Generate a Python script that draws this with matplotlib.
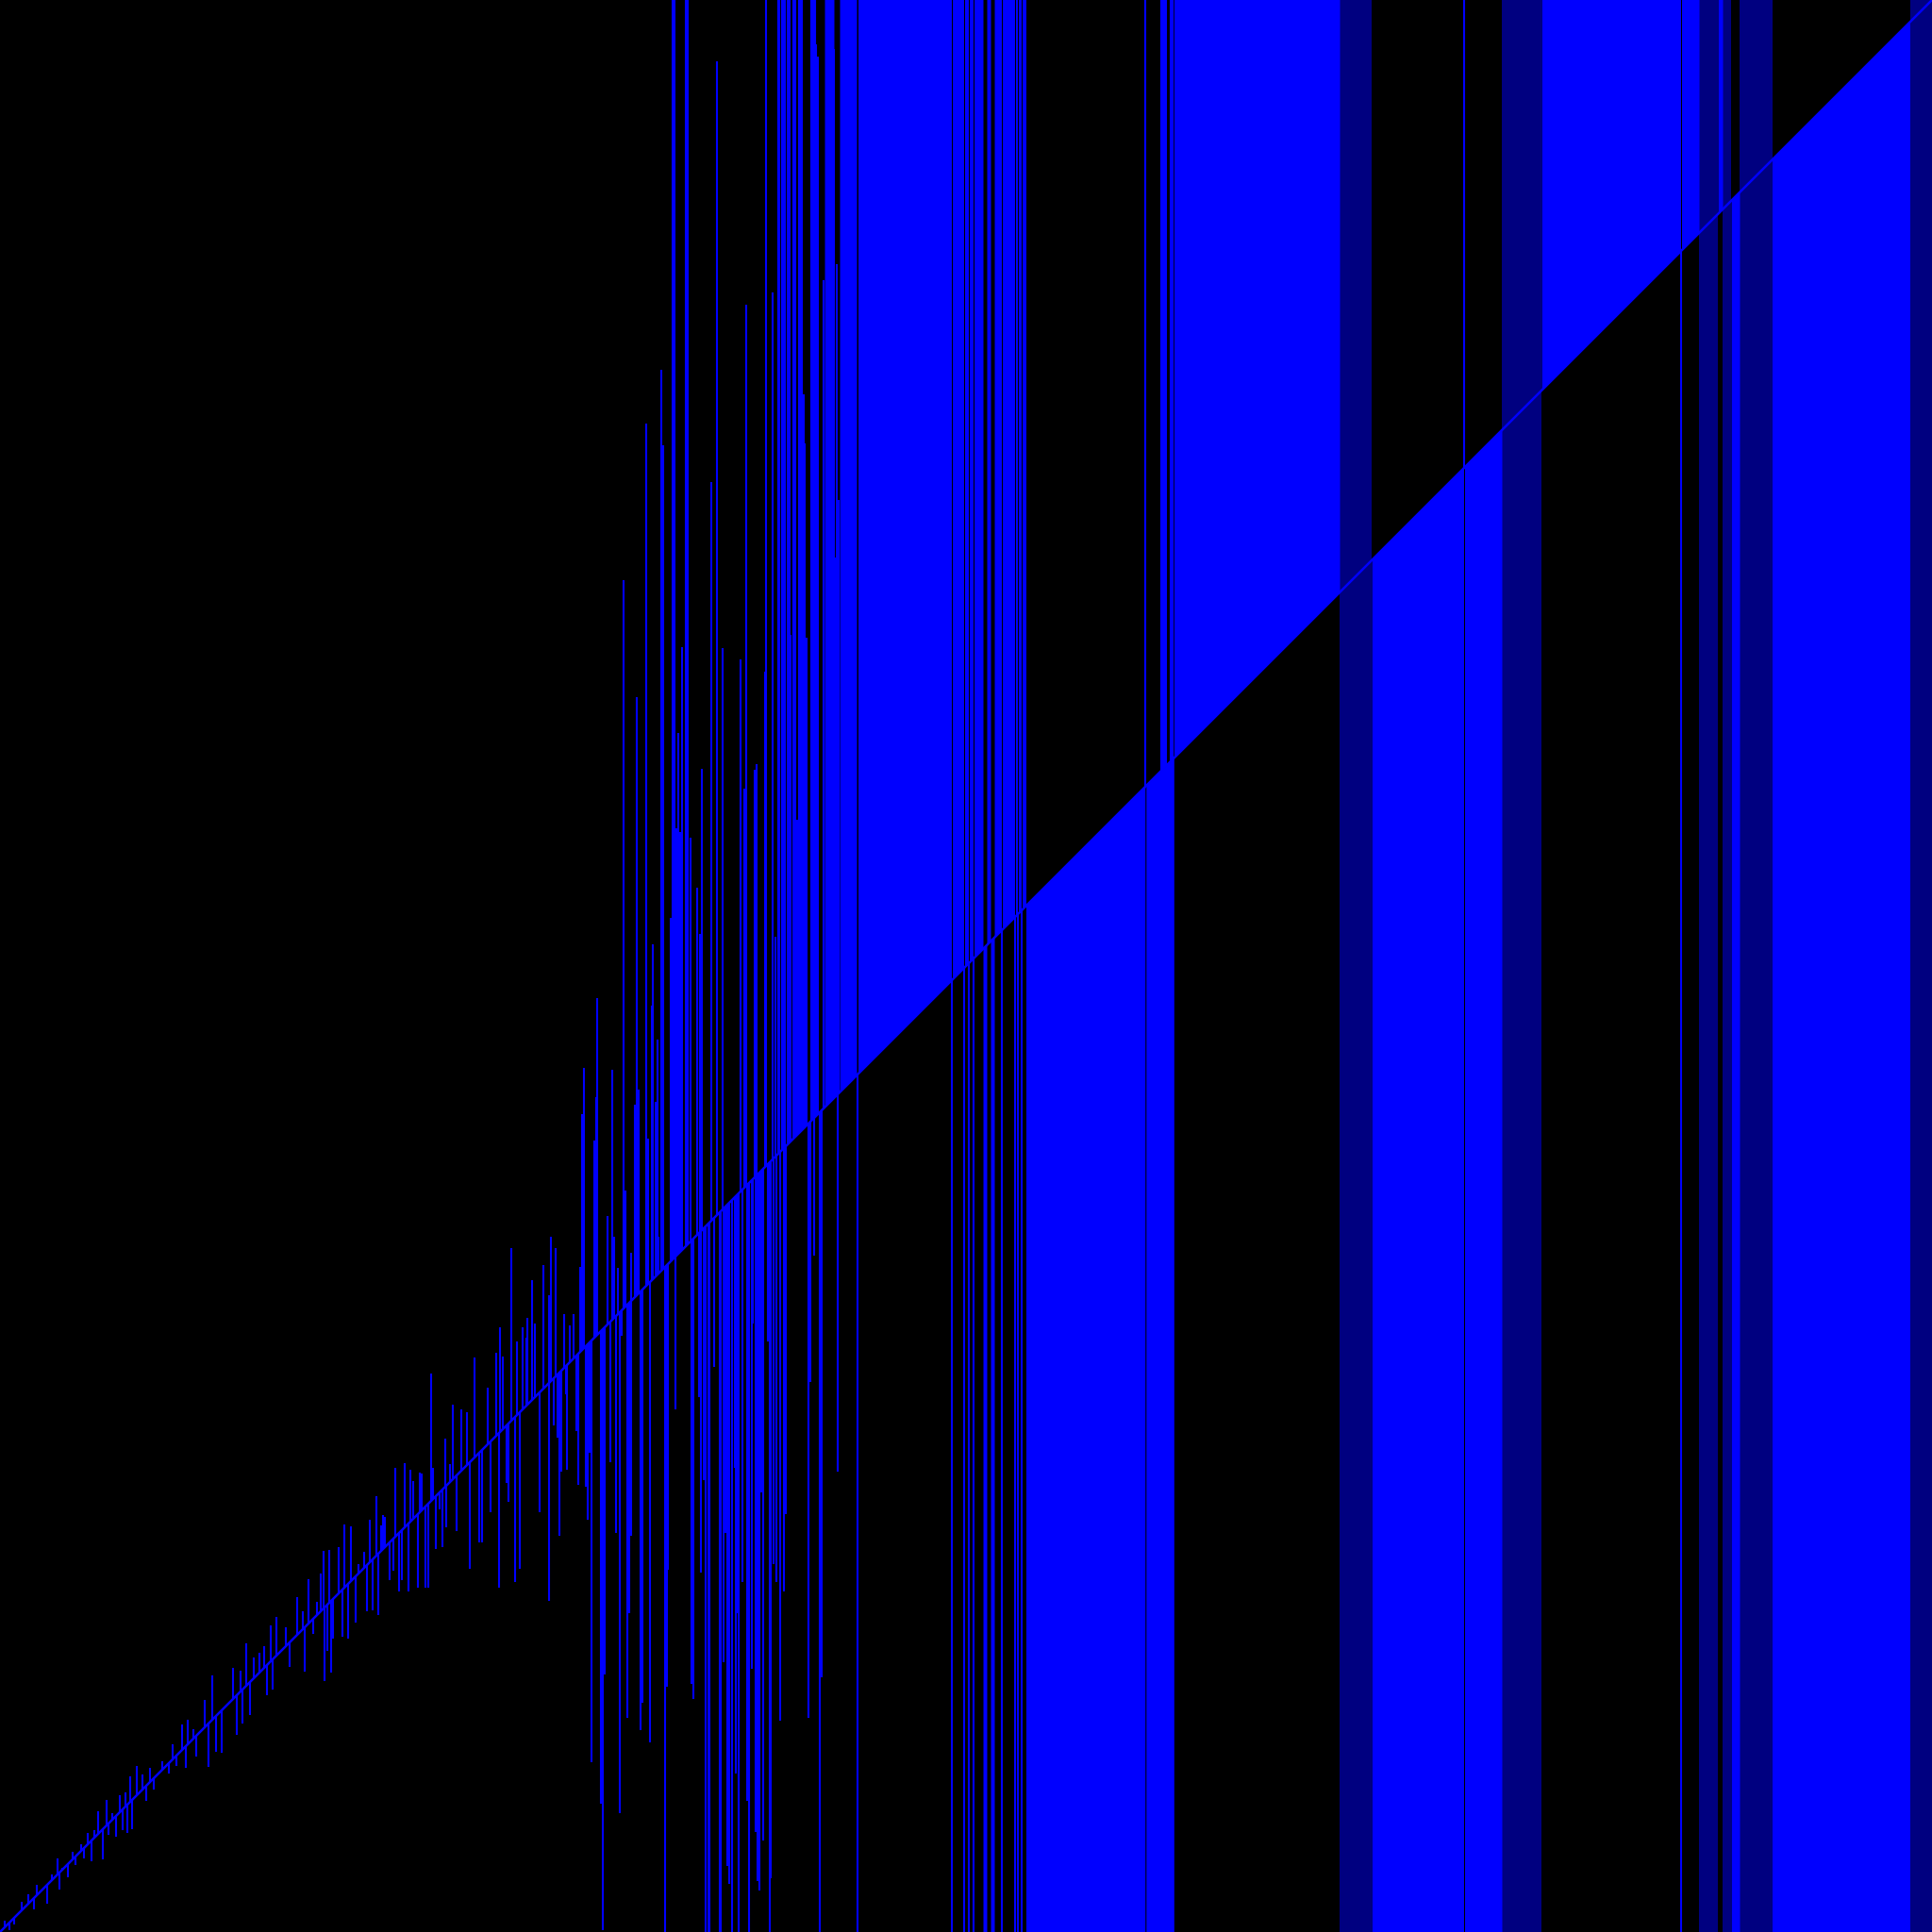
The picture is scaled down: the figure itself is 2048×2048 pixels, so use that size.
import matplotlib
matplotlib.use("Agg")
import matplotlib.pyplot as plt

TOP = 2100   # value beyond the top edge
BOT = -60    # value beyond the bottom edge
BLUE = (0, 0, 1)
NAVY = (0, 0, 0.5)

# the diagonal y = x
diag_x = [0, 2048]
diag_y = [0, 2048]

# spikes: each starts on the diagonal at x and ends at y
spike_x = [
    5, 10, 15, 23, 30, 36, 39, 50, 55, 61, 63, 66, 72, 77, 80, 86, 89, 93, 97, 100,
    104, 109, 113, 115, 119, 123, 127, 130, 133, 135, 138, 140, 145, 151, 155, 159, 163, 172, 179, 183,
    187, 193, 197, 199, 205, 208, 217, 221, 225, 229, 235, 247, 251, 255, 257, 261, 265, 269, 275, 280,
    283, 287, 289, 293, 303, 307, 315, 321, 323, 327, 332, 336, 340, 343, 344, 347, 349, 351, 353, 359,
    363, 365, 369, 372, 377, 380, 386, 389, 392, 395, 399, 401, 404, 406, 408, 413, 417, 419, 423, 426,
    429, 433, 435, 438, 443, 445, 447, 451, 454, 457, 459, 462, 466, 469, 472, 473, 477, 480, 484, 489,
    495, 498, 503, 508, 511, 517, 520, 526, 529, 530, 533, 537, 539, 542, 546, 548, 551, 554, 558, 559,
    564, 567, 572, 576,
    582, 582, 584, 587, 589, 591, 593, 595, 598, 600, 601, 604, 608, 611, 613, 615, 617, 619, 621, 623,
    625, 627, 630, 632, 633, 637, 639, 641, 644, 647, 649, 651, 653, 655, 657, 659, 661, 663, 665, 667,
    669, 669, 673, 675, 677, 679, 681, 685, 687, 689, 691, 692, 695, 697, 698, 701, 703, 705, 707, 708,
    711, 713, 715, 716, 717, 719, 721, 723, 727, 729, 732, 733, 735, 739, 741, 742, 743, 744, 746, 748,
    751, 752, 754, 757, 760, 763, 764, 766, 767, 769, 771, 772, 773, 776, 779, 780, 782, 783, 785, 787,
    789, 791, 792, 794, 797, 798, 800, 801, 802, 803, 805, 807, 809, 811, 812, 814, 816, 817, 819, 820,
    822, 823, 825, 826, 827, 829, 830, 831, 832, 833, 835, 837, 838, 841, 842, 843, 845, 847, 848, 850,
    852, 853, 855, 857, 859, 860, 862, 863, 864, 865, 867, 869, 871, 873, 884, 886, 887, 888, 889,
    908.75, 1009, 1022, 1027, 1032, 1062, 1076, 1079, 1083, 1214.3, 1230.7, 1232.3, 1234.3, 1236,
    1241, 1243, 1552, 1782,
]
spike_y = [
    12, 2, 8, 32, 40, 24, 50, 30, 61, 78, 45, 68, 58, 85, 71, 93, 78, 105, 75, 108,
    128, 77, 140, 103, 126, 101, 145, 108, 148, 105, 165, 109, 176, 167, 139, 174, 151, 181, 168, 199,
    176, 220, 174, 225, 215, 186, 246, 175, 272, 191, 190, 280, 209, 277, 221, 306, 230, 291, 296, 303,
    251, 325, 257, 334, 323, 281, 355, 340, 276, 374, 316, 350, 380, 404, 266, 298, 405, 275, 311, 408,
    313, 432, 311, 430, 328, 390, 403, 340, 437, 341, 462, 336, 431, 442, 440, 373, 383, 492, 361, 373,
    497, 361, 490, 478, 365, 487, 486, 365, 365, 592, 492, 406, 448, 408, 523, 429, 496, 559, 425, 554,
    551, 385, 609, 413, 413, 577, 445, 614, 365, 641, 610, 476, 456, 725, 371, 626, 385, 641, 630, 651,
    691, 645, 445, 707,
    675, 351, 737, 537, 725, 524, 420, 488, 655, 570, 490, 643, 655, 531, 474, 705, 867, 916, 472, 437,
    508, 180, 839, 885, 990, 136, 2, 273, 759, 498, 914, 737, 423, 704, 126, 632, 1433, 786, 227, 338,
    720, 420, 877, 1309, 893, 214, 243, 1599, 841, 201, 982, 1047, 880, 946, 737, 1656, 1576, BOT, 260, 384,
    1075, TOP, TOP, 554, 1170, 1271, 1166, 1362, TOP, TOP, 1160, 263, 247, 1107, 567, 1058, 381, 1233, 479, BOT,
    BOT, BOT, 1537, 599, 1983, BOT, BOT, 1361, 286, 423, 70, 136, 51, BOT, 492, 168, 338, BOT, 1349, 371,
    1212, 1725, 139, BOT, 279, 645, 1232, 106, 1238, 54, 44, 466, 97, 1336, TOP, 626, BOT, 57, 1738, 390,
    1055, 371, TOP, TOP, 224, TOP, TOP, 361, TOP, 443, TOP, TOP, 1375, TOP, TOP, TOP, 1179, TOP, TOP, TOP,
    1630, 1578, 1372, 227, 583, TOP, TOP, 717, TOP, 2001, 1988, BOT, 270, 1751, 1996, 1457, 1768, 488, 1518,
    BOT, BOT, BOT, BOT, BOT, BOT, BOT, BOT, BOT, TOP, TOP, TOP, TOP, TOP,
    TOP, TOP, TOP, BOT,
]

# x ranges where the lines run from the diagonal up past the top
up_start = [874, 890, 909.5, 1009.5, 1022.5, 1027.5, 1032.5, 1046, 1054, 1062.5, 1076.5, 1079.5, 1083.5,
            1244.3, 1634, 1782.5, 1821]
up_end = [884, 908, 1008.5, 1021.5, 1026.5, 1031.5, 1042, 1050, 1061.5, 1075.5, 1078.5, 1082.5, 1087.5,
          1420, 1781.5, 1801, 1826]

# x ranges where the lines run from the diagonal down past the bottom
down_start = [1042, 1050, 1087.5, 1214.8, 1454, 1552.5, 1835, 1879]
down_end = [1046, 1054, 1213.8, 1244.3, 1551.5, 1592, 1844, 2025]

# x ranges with tightly packed lines in both directions
dense_start = [1420, 1592, 1801, 1826, 1844, 2025]
dense_end = [1454, 1634, 1821, 1835, 1879, 2048]

fig = plt.figure(figsize=(20.48, 20.48), dpi=100, facecolor="black")
ax = fig.add_axes([0, 0, 1, 1])
ax.set_facecolor("black")

for s, e in zip(dense_start, dense_end):
    ax.fill_between([s, e], BOT, TOP, color=NAVY, linewidth=0)
for s, e in zip(up_start, up_end):
    ax.fill_between([s, e], [s, e], TOP, color=BLUE, linewidth=0)
for s, e in zip(down_start, down_end):
    ax.fill_between([s, e], BOT, [s, e], color=BLUE, linewidth=0)

ax.vlines(spike_x, spike_x, spike_y, color=BLUE, linewidth=1.5)
ax.plot(diag_x, diag_y, color=BLUE, linewidth=1.8)

ax.set_xlim(0, 2048)
ax.set_ylim(0, 2048)
ax.axis("off")

fig.savefig("out.png", dpi=100, facecolor="black")
